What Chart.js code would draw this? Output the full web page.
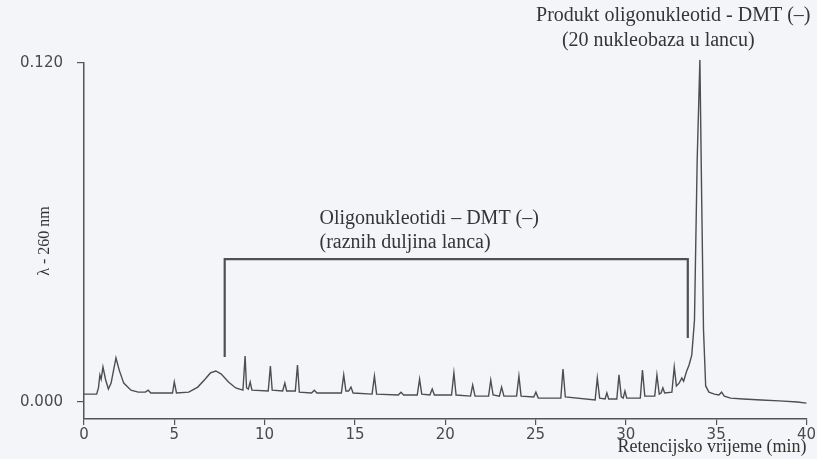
<!DOCTYPE html>
<html>
<head>
<meta charset="utf-8">
<script src="https://cdn.jsdelivr.net/npm/chart.js@4.4.1/dist/chart.umd.min.js"></script>
<style>
html,body{margin:0;padding:0;background:#f3f5f8;}
#wrap{width:817px;height:459px;}
</style>
</head>
<body>
<div id="wrap"><canvas id="c" width="817" height="459"></canvas></div>
<script>
// Retention time (min)
const retentionTime = [
 0, 0.7, 0.8, 0.88, 0.95, 1.05, 1.2, 1.35, 1.5, 1.77, 1.95, 2.2, 2.6, 3.0, 3.4, 3.55, 3.7,
 4.9, 5.0, 5.12, 5.8, 6.3, 6.7, 7.0, 7.3, 7.6, 8.0, 8.4, 8.8, 8.92, 9.0, 9.1, 9.2, 9.3,
 10.2, 10.32, 10.42, 11.0, 11.12, 11.22, 11.7, 11.82, 11.92, 12.6, 12.75, 12.9,
 14.25, 14.38, 14.5, 14.65, 14.78, 14.9, 15.95, 16.08, 16.2, 17.4, 17.55, 17.7,
 18.45, 18.58, 18.7, 19.15, 19.28, 19.4, 20.35, 20.48, 20.6, 21.4, 21.52, 21.65,
 22.4, 22.52, 22.65, 23.0, 23.12, 23.25, 23.95, 24.08, 24.2, 24.9, 25.02, 25.15,
 26.4, 26.52, 26.65, 28.3, 28.42, 28.55, 28.85, 28.95, 29.05, 29.5, 29.62, 29.75,
 29.85, 29.95, 30.05, 30.8, 30.92, 31.05, 31.6, 31.72, 31.85, 31.95, 32.05, 32.15,
 32.55, 32.68, 32.8, 32.95, 33.1, 33.2, 33.35, 33.5, 33.65, 33.8, 33.95, 34.1, 34.2,
 34.3, 34.42, 34.6, 34.9, 35.15, 35.3, 35.45, 35.8, 36.5, 37.5, 38.5, 39.5, 40
];
// Absorbance at 260 nm (AU)
const absorbance = [
 0.0028, 0.0028, 0.0050, 0.0096, 0.0081, 0.0124, 0.0078, 0.0046, 0.0067, 0.0156, 0.0113, 0.0067, 0.0042, 0.0035, 0.0035, 0.0042, 0.0032,
 0.0032, 0.0071, 0.0032, 0.0035, 0.0053, 0.0081, 0.0103, 0.0110, 0.0099, 0.0071, 0.0050, 0.0042, 0.0163, 0.0050, 0.0046, 0.0071, 0.0042,
 0.0039, 0.0127, 0.0042, 0.0039, 0.0067, 0.0039, 0.0039, 0.0131, 0.0035, 0.0032, 0.0042, 0.0032,
 0.0032, 0.0096, 0.0039, 0.0039, 0.0053, 0.0032, 0.0028, 0.0092, 0.0028, 0.0025, 0.0035, 0.0025,
 0.0025, 0.0081, 0.0028, 0.0025, 0.0046, 0.0025, 0.0025, 0.0103, 0.0025, 0.0021, 0.0060, 0.0021,
 0.0021, 0.0078, 0.0025, 0.0021, 0.0053, 0.0021, 0.0021, 0.0092, 0.0021, 0.0018, 0.0035, 0.0014,
 0.0014, 0.0117, 0.0018, 0.0007, 0.0085, 0.0014, 0.0011, 0.0032, 0.0011, 0.0011, 0.0096, 0.0018,
 0.0014, 0.0039, 0.0014, 0.0014, 0.0113, 0.0021, 0.0021, 0.0096, 0.0028, 0.0032, 0.0050, 0.0032,
 0.0035, 0.0124, 0.0057, 0.0067, 0.0085, 0.0074, 0.0106, 0.0131, 0.0166, 0.0290, 0.0857, 0.1211, 0.0715,
 0.0255, 0.0057, 0.0035, 0.0028, 0.0025, 0.0035, 0.0021, 0.0014, 0.0011, 0.0007, 0.0004, 0.0000, -0.0004
];
const xTickValues = [0, 5, 10, 15, 20, 25, 30, 35, 40];
const yTickValues = [0, 0.12];

// bracket marking the failure sequences
const bracketTime = [7.79, 7.79, 33.43, 33.43];
const bracketLevel = [0.0159, 0.0506, 0.0506, 0.0227];

// annotation texts and their anchors (time, absorbance)
const noteTexts = [
 'Produkt oligonukleotid - DMT (\u2013)',
 '(20 nukleobaza u lancu)',
 'Oligonukleotidi \u2013 DMT (\u2013)',
 '(raznih duljina lanca)'
];
const noteTime = [25.03, 26.46, 13.04, 13.04];
const noteLevel = [0.1366, 0.1278, 0.0648, 0.0563];

const traceData = retentionTime.map((t, i) => ({x: t, y: absorbance[i]}));
const bracketData = bracketTime.map((t, i) => ({x: t, y: bracketLevel[i]}));

const bgPlugin = {
  id: 'bg',
  beforeDraw(chart) {
    const ctx = chart.ctx;
    ctx.save();
    ctx.fillStyle = '#f3f5f8';
    ctx.fillRect(0, 0, chart.width, chart.height);
    ctx.restore();
  }
};
const notesPlugin = {
  id: 'notes',
  afterDatasetsDraw(chart) {
    const ctx = chart.ctx, xs = chart.scales.x, ys = chart.scales.y;
    ctx.save();
    ctx.fillStyle = '#353535';
    ctx.font = '20px "Liberation Serif", serif';
    ctx.textAlign = 'left';
    ctx.textBaseline = 'middle';
    noteTexts.forEach((txt, i) => {
      ctx.fillText(txt, xs.getPixelForValue(noteTime[i]), ys.getPixelForValue(noteLevel[i]));
    });
    ctx.restore();
  }
};

new Chart(document.getElementById('c'), {
  type: 'line',
  data: {
    datasets: [
      {
        data: traceData,
        borderColor: '#4d4d52',
        borderWidth: 1.4,
        pointRadius: 0,
        tension: 0,
        fill: false,
        clip: false
      },
      {
        data: bracketData,
        borderColor: '#505050',
        borderWidth: 2.2,
        pointRadius: 0,
        tension: 0,
        fill: false,
        clip: false
      }
    ]
  },
  options: {
    responsive: false,
    animation: false,
    devicePixelRatio: 1,
    layout: {padding: {left: 0, right: 9, top: 63, bottom: 0}},
    plugins: {legend: {display: false}, tooltip: {enabled: false}},
    scales: {
      x: {
        type: 'linear',
        min: 0, max: 40,
        afterFit(s) { s.height = 40; },
        afterBuildTicks(s) { s.ticks = xTickValues.map(v => ({value: v})); },
        ticks: {
          color: '#4a4a4a',
          font: {family: '"DejaVu Sans", sans-serif', size: 15},
          padding: 1,
          maxRotation: 0,
          callback: v => String(v)
        },
        grid: {display: true, drawOnChartArea: false, drawTicks: true, tickLength: 6, color: '#555', lineWidth: 1.2},
        border: {display: true, color: '#555', width: 1.5},
        title: {
          display: true,
          text: 'Retencijsko vrijeme (min)',
          align: 'end',
          color: '#333',
          font: {family: '"Liberation Serif", serif', size: 18},
          padding: {top: 0, bottom: 1}
        }
      },
      y: {
        type: 'linear',
        min: -0.006, max: 0.12,
        afterFit(s) { s.width = 84; },
        afterBuildTicks(s) { s.ticks = yTickValues.map(v => ({value: v})); },
        ticks: {
          color: '#4a4a4a',
          font: {family: '"DejaVu Sans", sans-serif', size: 15},
          padding: 14,
          callback: v => Number(v).toFixed(3)
        },
        grid: {display: true, drawOnChartArea: false, drawTicks: true, tickLength: 7, color: '#555', lineWidth: 1.2},
        border: {display: true, color: '#555', width: 1.5},
        title: {
          display: true,
          text: '\u03bb - 260 nm',
          color: '#333',
          font: {family: '"Liberation Serif", serif', size: 16},
          padding: {top: 35, bottom: 0}
        }
      }
    }
  },
  plugins: [bgPlugin, notesPlugin]
});
</script>
</body>
</html>
